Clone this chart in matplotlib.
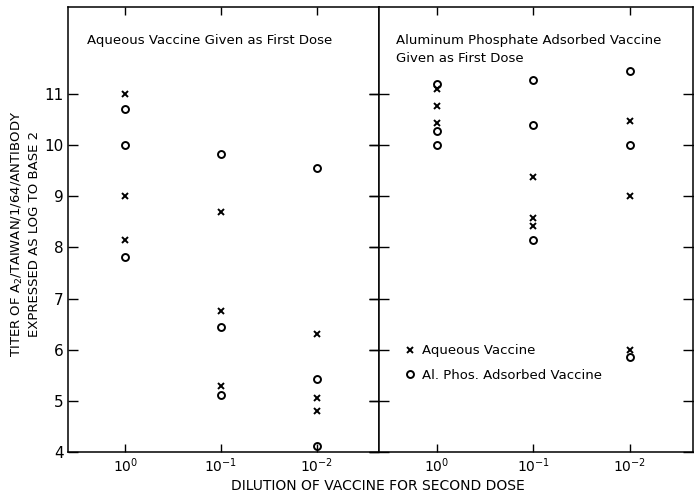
import matplotlib.pyplot as plt

# dilution columns: 10^0, 10^-1, 10^-2
dilutions = ['10$^{0}$', '10$^{-1}$', '10$^{-2}$']
y_ticks = [4, 5, 6, 7, 8, 9, 10, 11]

# panel 1: aqueous vaccine as first dose
left_aq_x = [0, 0, 0, 1, 1, 1, 2, 2, 2]
left_aq_y = [11.0, 9.0, 8.15, 8.7, 6.75, 5.3, 6.3, 5.05, 4.8]
left_al_x = [0, 0, 0, 1, 1, 1, 2, 2, 2]
left_al_y = [10.7, 10.0, 7.82, 9.82, 6.45, 5.12, 9.55, 5.42, 4.12]

# panel 2: aluminum phosphate adsorbed vaccine as first dose
right_aq_x = [0, 0, 0, 1, 1, 1, 2, 2, 2]
right_aq_y = [11.1, 10.77, 10.43, 9.38, 8.58, 8.42, 10.47, 9.0, 6.0]
right_al_x = [0, 0, 0, 1, 1, 1, 2, 2, 2]
right_al_y = [11.2, 10.27, 10.0, 11.27, 10.4, 8.15, 11.45, 10.0, 5.85]

fig = plt.figure(figsize=(6.94, 4.97), dpi=100)
ax1 = fig.add_axes([0.098, 0.0905, 0.448, 0.8955])
ax2 = fig.add_axes([0.546, 0.0905, 0.452, 0.8955])

aq_style = dict(marker='x', color='black', markersize=4.5, markeredgewidth=1.4,
                linestyle='none')
al_style = dict(marker='o', markerfacecolor='none', markeredgecolor='black',
                markersize=5, markeredgewidth=1.4, linestyle='none')

ax1.plot(left_aq_x, left_aq_y, **aq_style)
ax1.plot(left_al_x, left_al_y, **al_style)
ax2.plot(right_aq_x, right_aq_y, label='Aqueous Vaccine', **aq_style)
ax2.plot(right_al_x, right_al_y, label='Al. Phos. Adsorbed Vaccine', **al_style)

for ax in (ax1, ax2):
    ax.set_xlim(-0.6, 2.65)
    ax.set_ylim(4, 12.7)
    ax.set_xticks(range(len(dilutions)))
    ax.set_xticklabels(dilutions, fontsize=10)
    ax.set_yticks(y_ticks)
    ax.tick_params(axis='x', direction='in', length=6, top=True, width=1)
    for s in ax.spines.values():
        s.set_linewidth(1.1)

ax1.set_yticklabels([str(v) for v in y_ticks], fontsize=11)
ax1.tick_params(axis='y', direction='in', length=7, width=1, right=True, pad=3)
ax2.set_yticklabels([])
ax2.tick_params(axis='y', direction='inout', length=14, width=1, right=True)

ax1.text(0.06, 0.925, 'Aqueous Vaccine Given as First Dose', transform=ax1.transAxes,
         fontsize=9.5, va='center')
ax2.text(0.055, 0.905, 'Aluminum Phosphate Adsorbed Vaccine\nGiven as First Dose',
         transform=ax2.transAxes, fontsize=9.5, va='center', linespacing=1.5)

ax2.legend(loc='center left', bbox_to_anchor=(0.04, 0.2), frameon=False,
           fontsize=9.5, handletextpad=0.4, handlelength=1.0, labelspacing=0.85)

fig.text(0.037, 0.53, 'TITER OF A$_2$/TAIWAN/1/64/ANTIBODY\nEXPRESSED AS LOG TO BASE 2',
         rotation=90, ha='center', va='center', fontsize=9.5, linespacing=1.25)
fig.text(0.545, 0.022, 'DILUTION OF VACCINE FOR SECOND DOSE', ha='center',
         va='center', fontsize=10)

plt.savefig('out.png', dpi=100)
